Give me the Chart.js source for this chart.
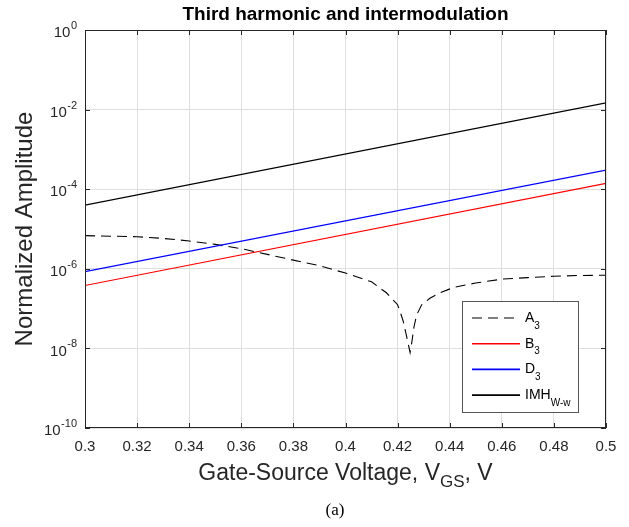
<!DOCTYPE html>
<html lang="en">
<head>
<meta charset="UTF-8">
<title>Third harmonic and intermodulation</title>
<script src="https://cdn.jsdelivr.net/npm/chart.js"></script>
<style>
  body { margin: 0; background: #fff; }
  #wrap { position: relative; width: 629px; height: 527px; }
</style>
</head>
<body>
<div id="wrap"><canvas id="chart" width="629" height="527"></canvas></div>
<script>
// values
const vgsA3 = [0.30, 0.31, 0.32, 0.33, 0.34, 0.35, 0.36, 0.37, 0.38, 0.39, 0.40, 0.41, 0.4157, 0.42, 0.421,
  0.4222, 0.4232, 0.4248, 0.4254, 0.4263, 0.4273, 0.4292, 0.4324, 0.4363, 0.4415, 0.45, 0.46, 0.47, 0.48, 0.49, 0.50];
const a3 = [6.8e-6, 6.6e-6, 6.4e-6, 5.8e-6, 5.0e-6, 4.1e-6, 3.2e-6, 2.3e-6, 1.65e-6, 1.2e-6, 7.8e-7, 4.7e-7, 2.5e-7, 1.25e-7, 8.3e-8,
  4.7e-8, 2.4e-8, 7.9e-9, 1.35e-8, 3.5e-8, 6.9e-8, 1.23e-7, 1.82e-7, 2.5e-7, 3.4e-7, 4.4e-7, 5.5e-7, 6.0e-7, 6.5e-7, 6.8e-7, 6.9e-7];
const vgsLines = [0.30, 0.50];
const b3 = [3.8e-7, 1.4e-4];
const d3 = [8.5e-7, 3.0e-4];
const imh = [4.0e-5, 1.47e-2];
const xTicks = [0.3, 0.32, 0.34, 0.36, 0.38, 0.4, 0.42, 0.44, 0.46, 0.48, 0.5];
const yTicks = [1e-10, 1e-8, 1e-6, 1e-4, 1e-2, 1];

const axisColor = '#262626';
const gridColor = '#dedede';
const font = '"Liberation Sans", Arial, sans-serif';

const legendItems = [
  { main: 'A', sub: '3', color: '#000000', dash: [10, 6] },
  { main: 'B', sub: '3', color: '#ff0000', dash: [] },
  { main: 'D', sub: '3', color: '#0000ff', dash: [] },
  { main: 'IMH', sub: 'W-w', color: '#000000', dash: [] }
];

function pts(xs, ys) {
  return xs.map((x, i) => ({ x: x, y: ys[i] }));
}

// draws the text with a subscript and returns the end x
function textWithSub(ctx, parts, x, y, size, subSize, subShift) {
  parts.forEach(p => {
    if (p.sub) {
      ctx.font = subSize + 'px ' + font;
      ctx.fillText(p.text, x, y + subShift);
    } else {
      ctx.font = size + 'px ' + font;
      ctx.fillText(p.text, x, y);
    }
    x += ctx.measureText(p.text).width;
  });
  return x;
}

function partsWidth(ctx, parts, size, subSize) {
  let w = 0;
  parts.forEach(p => {
    ctx.font = (p.sub ? subSize : size) + 'px ' + font;
    w += ctx.measureText(p.text).width;
  });
  return w;
}

const matlabAxes = {
  id: 'matlabAxes',
  afterDraw(chart) {
    const ctx = chart.ctx;
    const a = chart.chartArea;
    const xs = chart.scales.x, ys = chart.scales.y;
    ctx.save();

    // box
    ctx.strokeStyle = axisColor;
    ctx.lineWidth = 1;
    ctx.setLineDash([]);
    ctx.strokeRect(a.left + 0.5, a.top + 0.5, a.right - a.left - 1, a.bottom - a.top - 1);

    // inward ticks
    ctx.beginPath();
    xTicks.forEach(v => {
      const px = Math.round(xs.getPixelForValue(v)) + 0.5;
      ctx.moveTo(px, a.bottom); ctx.lineTo(px, a.bottom - 5);
      ctx.moveTo(px, a.top); ctx.lineTo(px, a.top + 5);
    });
    yTicks.forEach(v => {
      const py = Math.round(ys.getPixelForValue(v)) + 0.5;
      ctx.moveTo(a.left, py); ctx.lineTo(a.left + 5, py);
      ctx.moveTo(a.right, py); ctx.lineTo(a.right - 5, py);
    });
    ctx.stroke();

    // x tick labels
    ctx.fillStyle = axisColor;
    ctx.font = '15px ' + font;
    ctx.textAlign = 'center';
    ctx.textBaseline = 'middle';
    xTicks.forEach(v => {
      ctx.fillText(String(+v.toFixed(2)), xs.getPixelForValue(v), a.bottom + 19);
    });

    // y tick labels 10^n
    ctx.textAlign = 'right';
    yTicks.forEach(v => {
      const py = ys.getPixelForValue(v);
      const ex = String(Math.round(Math.log10(v)));
      const right = a.left - 8;
      ctx.font = '11px ' + font;
      const w = ctx.measureText(ex).width;
      ctx.fillText(ex, right, py - 4);
      ctx.font = '15px ' + font;
      ctx.fillText('10', right - w - 0.5, py + 3);
    });

    // title
    ctx.textAlign = 'center';
    ctx.font = 'bold 19px ' + font;
    ctx.fillStyle = '#000';
    ctx.fillText('Third harmonic and intermodulation', (a.left + a.right) / 2, 15);

    // y title
    ctx.fillStyle = axisColor;
    ctx.save();
    ctx.translate(25, (a.top + a.bottom) / 2);
    ctx.rotate(-Math.PI / 2);
    ctx.font = '24px ' + font;
    ctx.fillText('Normalized Amplitude', 0, 0);
    ctx.restore();

    // x title with subscript
    const xParts = [{ text: 'Gate-Source Voltage, V' }, { text: 'GS', sub: true }, { text: ', V' }];
    ctx.textAlign = 'left';
    const xw = partsWidth(ctx, xParts, 23, 17);
    textWithSub(ctx, xParts, (a.left + a.right) / 2 - xw / 2, 474, 23, 17, 8);

    // caption
    ctx.textAlign = 'center';
    ctx.fillStyle = '#000';
    ctx.font = '17px "Liberation Serif", "Times New Roman", serif';
    ctx.fillText('(a)', 335, 511);

    // legend
    const bx = a.right - 144, by = a.bottom - 127, bw = 116, bh = 111;
    ctx.fillStyle = '#fff';
    ctx.fillRect(bx, by, bw, bh);
    ctx.strokeStyle = '#555';
    ctx.strokeRect(bx + 0.5, by + 0.5, bw, bh);
    legendItems.forEach((it, i) => {
      const ry = by + 17 + i * 25.7;
      ctx.strokeStyle = it.color;
      ctx.lineWidth = it.dash.length ? 1.1 : 1.6;
      ctx.setLineDash(it.dash);
      ctx.beginPath();
      ctx.moveTo(bx + 10, ry); ctx.lineTo(bx + 58, ry);
      ctx.stroke();
      ctx.setLineDash([]);
      ctx.fillStyle = '#000';
      ctx.textAlign = 'left';
      textWithSub(ctx, [{ text: it.main }, { text: it.sub, sub: true }], bx + 63, ry, 14, 10, 8);
    });

    ctx.restore();
  }
};

new Chart(document.getElementById('chart'), {
  type: 'line',
  data: {
    datasets: [
      { label: 'IMH', data: pts(vgsLines, imh), borderColor: '#000000', borderWidth: 1.2 },
      { label: 'D3', data: pts(vgsLines, d3), borderColor: '#0000ff', borderWidth: 1.2 },
      { label: 'B3', data: pts(vgsLines, b3), borderColor: '#ff0000', borderWidth: 1.2 },
      { label: 'A3', data: pts(vgsA3, a3), borderColor: '#000000', borderWidth: 1.1, borderDash: [10, 6] }
    ]
  },
  options: {
    responsive: false,
    animation: false,
    devicePixelRatio: 1,
    elements: { point: { radius: 0 }, line: { tension: 0 } },
    layout: { padding: { left: 0, right: 23, top: 30, bottom: 0 } },
    plugins: { legend: { display: false }, tooltip: { enabled: false } },
    scales: {
      x: {
        type: 'linear', min: 0.3, max: 0.5,
        afterBuildTicks: s => { s.ticks = xTicks.map(v => ({ value: v })); },
        afterFit: s => { s.height = 99; },
        ticks: { display: false },
        grid: { color: gridColor, drawTicks: false },
        border: { display: false }
      },
      y: {
        type: 'logarithmic', min: 1e-10, max: 1,
        afterBuildTicks: s => { s.ticks = yTicks.map(v => ({ value: v })); },
        afterFit: s => { s.width = 85; },
        ticks: { display: false },
        grid: { color: gridColor, drawTicks: false },
        border: { display: false }
      }
    }
  },
  plugins: [matlabAxes]
});
</script>
</body>
</html>
